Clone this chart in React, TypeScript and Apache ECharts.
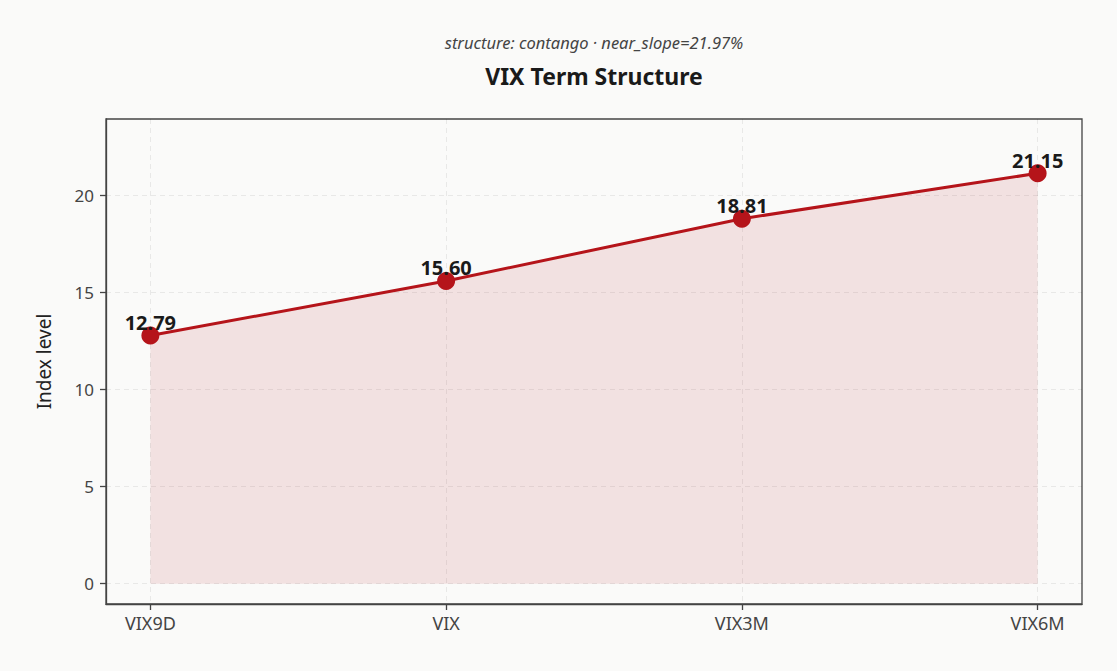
import React, { useEffect, useRef } from 'react';
import * as echarts from 'echarts';

// tenors and index levels
const tenors = ['VIX9D', 'VIX', 'VIX3M', 'VIX6M'];
const levels = [12.79, 15.6, 18.81, 21.15];
const yTicks = [0, 5, 10, 15, 20];
const xTicks = [0, 1, 2, 3];

const titleText = 'VIX Term Structure';
const subText = 'structure: contango · near_slope=21.97%';
const yName = 'Index level';

const FONT = '"Noto Sans", "Open Sans", sans-serif';
const RED = '#b5141a';
const AXIS = '#444444';

const App = () => {
    const chartRef = useRef<HTMLDivElement>(null);

    useEffect(() => {
        document.body.style.margin = '0';
        if (!chartRef.current) return;
        const myChart = echarts.init(chartRef.current, null, { renderer: 'svg' });

        const gridLine = {
            show: true,
            lineStyle: { color: 'rgba(0,0,0,0.07)', type: [5, 4] as any, width: 1 }
        };

        const option = {
            animation: false,
            backgroundColor: '#fafaf9',
            textStyle: { fontFamily: FONT },
            graphic: [
                {
                    type: 'text',
                    x: 594,
                    y: 42,
                    style: {
                        text: subText,
                        align: 'center',
                        verticalAlign: 'middle',
                        fill: '#444',
                        font: 'italic 16.5px ' + FONT
                    }
                },
                {
                    type: 'text',
                    x: 594,
                    y: 76,
                    style: {
                        text: titleText,
                        align: 'center',
                        verticalAlign: 'middle',
                        fill: '#1a1a1a',
                        font: 'bold 23px ' + FONT
                    }
                }
            ],
            grid: {
                left: 106,
                right: 35,
                top: 119,
                bottom: 67,
                show: true,
                borderColor: AXIS,
                borderWidth: 1.3,
                backgroundColor: 'transparent'
            },
            xAxis: {
                type: 'value',
                min: -0.15,
                max: 3.15,
                axisLine: { show: true, onZero: false, lineStyle: { color: AXIS, width: 1.3 } },
                axisTick: { show: true, length: 6, customValues: xTicks, lineStyle: { color: AXIS, width: 1.3 } },
                axisLabel: {
                    customValues: xTicks,
                    formatter: (v: number) => tenors[Math.round(v)] ?? '',
                    color: AXIS,
                    fontSize: 18,
                    margin: 10,
                    fontFamily: FONT
                },
                splitLine: gridLine
            },
            yAxis: {
                type: 'value',
                min: -1.05,
                max: 23.95,
                name: yName,
                nameLocation: 'middle',
                nameGap: 53,
                nameTextStyle: { fontSize: 19, color: '#222', fontFamily: FONT },
                axisLine: { show: true, onZero: false, lineStyle: { color: AXIS, width: 1.3 } },
                axisTick: { show: true, length: 6, customValues: yTicks, lineStyle: { color: AXIS, width: 1.3 } },
                axisLabel: {
                    customValues: yTicks,
                    color: AXIS,
                    fontSize: 17,
                    margin: 12,
                    fontFamily: FONT
                },
                splitLine: gridLine
            },
            series: [
                {
                    type: 'line',
                    data: levels.map((v, i) => [i, v]),
                    symbol: 'circle',
                    symbolSize: 18,
                    lineStyle: { color: RED, width: 3 },
                    itemStyle: { color: RED },
                    areaStyle: { color: 'rgba(183,20,26,0.15)' },
                    z: 3,
                    label: {
                        show: true,
                        position: 'inside',
                        offset: [0, -13],
                        formatter: (p: any) => p.value[1].toFixed(2),
                        color: '#1a1a1a',
                        fontWeight: 'bold',
                        fontSize: 20,
                        fontFamily: FONT
                    }
                }
            ]
        };

        myChart.setOption(option as any);

        return () => {
            myChart.dispose();
        };
    }, []);

    return <div ref={chartRef} style={{ width: 1117, height: 671 }}></div>;
};

export default App;
